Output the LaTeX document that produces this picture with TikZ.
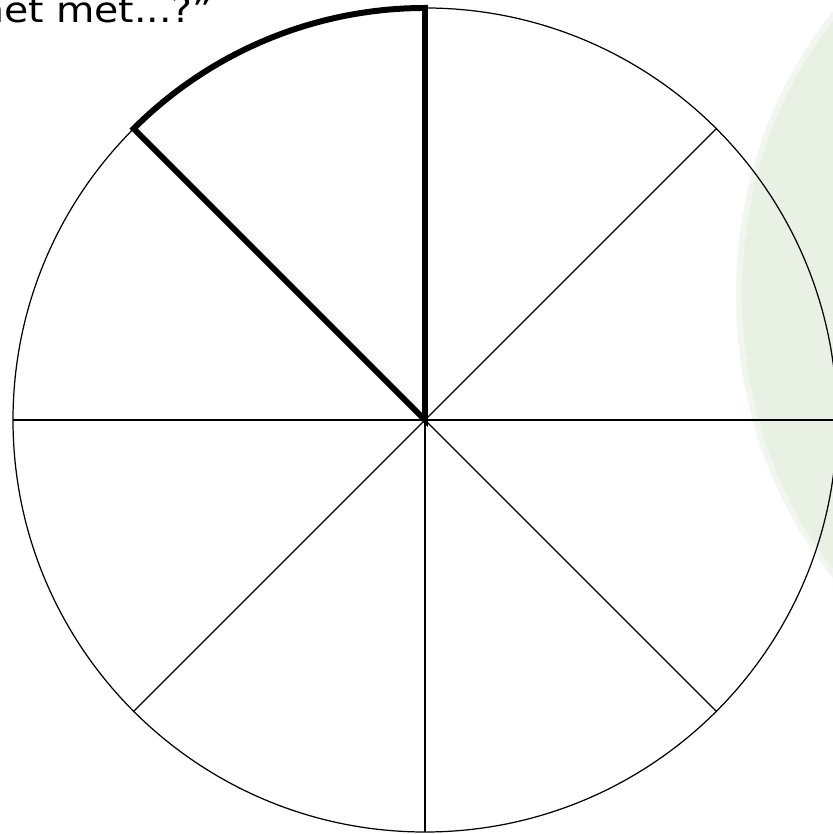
\documentclass[tikz,border=0pt]{standalone}
\usepackage{fontspec}
\newfontfamily\slidefont[FakeStretch=1.12]{DejaVu Sans}
\usetikzlibrary{calc}
\definecolor{blobgreen}{RGB}{232,241,228}
\definecolor{blobedge}{RGB}{241,246,238}

\begin{document}
\begin{tikzpicture}[x=0.01cm, y=0.01cm, every node/.style={font=\slidefont\fontsize{10pt}{12pt}\selectfont}]
        \useasboundingbox (0,0) rectangle (832,834);
        % Background blob
        \fill[blobedge] (1078,539) ellipse (342 and 406);
        \fill[blobgreen] (1078,539) ellipse (336 and 400);
        % Circle and spokes
        \coordinate (c) at (425,414);
        \draw[line width=0.35pt] (c) circle[radius=412];
        \foreach \a in {0,45,...,315} {
          \draw[line width=0.35pt] (c) -- ++(\a:412);
        }
        % Marked slice
        \draw[line width=1.7pt] (c) -- ++(135:412)
          arc[start angle=135, end angle=90, radius=412] -- cycle;
        % Question
        \node[anchor=base east, inner sep=0pt] (question) at (214,811) {het met...?”};
      \end{tikzpicture}
\end{document}
